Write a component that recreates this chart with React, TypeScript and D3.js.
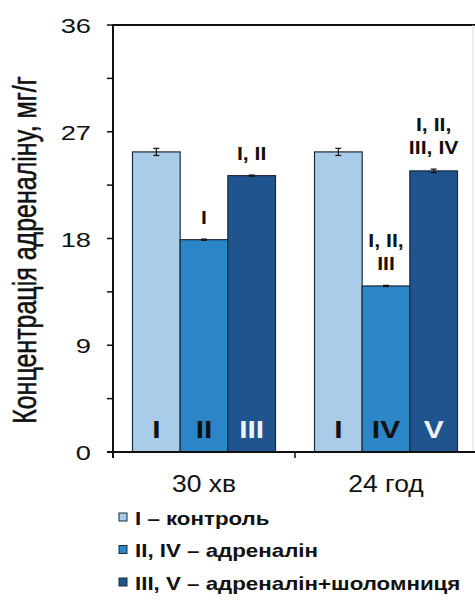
import React from "react";
import * as d3 from "d3";

const categories = ["30 хв", "24 год"];
const series = ["control", "adrenaline", "adrenalineMushroom"];
const values = [
  [25.3, 17.9, 23.3],
  [25.3, 14.0, 23.7],
];
const errors = [
  [0.3, 0.05, 0.05],
  [0.3, 0.05, 0.15],
];
const barLabels = [
  ["I", "II", "III"],
  ["I", "IV", "V"],
];
const sigLabels = [
  [[], ["I"], ["I, II"]],
  [[], ["I, II,", "III"], ["I, II,", "III, IV"]],
];
const yTicks = [0, 9, 18, 27, 36];
const yMinorTicks = [4.5, 13.5, 22.5, 31.5];
const legendLabels = ["I – контроль", "II, IV – адреналін", "III, V – адреналін+шоломниця"];
const colors = ["#a9cce9", "#2b85c7", "#1f548e"];
const labelColors = ["#111", "#111", "#eef3fa"];
const yTitle = "Концентрація адреналіну, мг/г";

const font = "'Liberation Sans', Arial, sans-serif";

function SText(props: {
  x: number;
  y: number;
  sx: number;
  size: number;
  bold?: boolean;
  anchor?: string;
  fill?: string;
  children: React.ReactNode;
}) {
  const { x, y, sx, size, bold, anchor, fill, children } = props;
  return (
    <g transform={`translate(${x},${y}) scale(${sx},1)`}>
      <text
        x={0}
        y={0}
        textAnchor={anchor || "start"}
        fontFamily={font}
        fontWeight={bold ? "bold" : "normal"}
        fontSize={size}
        fill={fill || "#111"}
      >
        {children}
      </text>
    </g>
  );
}

export default function App() {
  const W = 475, H = 601;
  const left = 113, right = 477, top = 25, bottom = 452;
  const y = d3.scaleLinear().domain([0, 36]).range([bottom, top]);
  const x0 = d3.scaleBand().domain(categories).range([left, right]).paddingInner(0).paddingOuter(0);
  const x1 = d3.scaleBand().domain(series).range([0, 143]);
  const groupOffset = (x0.bandwidth() - 143) / 2;

  return (
    <svg width={W} height={H} style={{ position: "absolute", left: 0, top: 0, background: "#fff" }}>
      {/* plot frame */}
      <line x1={left} x2={475} y1={top} y2={top} stroke="#111" strokeWidth={2} />
      <line x1={473} x2={473} y1={top} y2={bottom} stroke="#ddd" strokeWidth={1} />
      {/* bars */}
      {categories.map((c, gi) =>
        series.map((s, si) => {
          const bx = (x0(c) as number) + groupOffset + (x1(s) as number);
          const bw = x1.bandwidth();
          const v = values[gi][si];
          const e = errors[gi][si];
          const cx = bx + bw / 2;
          const sig = sigLabels[gi][si];
          return (
            <g key={c + s}>
              <rect x={bx} y={y(v)} width={bw} height={bottom - y(v)} fill={colors[si]} stroke="#1b2a3a" strokeWidth={1.2} />
              <line x1={cx} x2={cx} y1={y(v + e)} y2={y(v - e)} stroke="#111" strokeWidth={1.2} />
              <line x1={cx - 3} x2={cx + 3} y1={y(v + e)} y2={y(v + e)} stroke="#111" strokeWidth={1.2} />
              <line x1={cx - 3} x2={cx + 3} y1={y(v - e)} y2={y(v - e)} stroke="#111" strokeWidth={1.2} />
              <SText x={cx} y={438} sx={1.25} size={24} bold anchor="middle" fill={labelColors[si]}>
                {barLabels[gi][si]}
              </SText>
              {sig.map((t, li) => (
                <SText key={li} x={cx} y={y(v + e) - 15 - (sig.length - 1 - li) * 23} sx={1.12} size={19} bold anchor="middle">
                  {t}
                </SText>
              ))}
            </g>
          );
        })
      )}
      {/* y axis */}
      <line x1={left} x2={left} y1={top - 1} y2={bottom + 6} stroke="#111" strokeWidth={2} />
      {yTicks.map((t) => (
        <g key={t}>
          <line x1={left - 6} x2={left} y1={y(t)} y2={y(t)} stroke="#111" strokeWidth={1.5} />
          <SText x={91} y={y(t) + 8} sx={1.3} size={21} anchor="end">
            {t}
          </SText>
        </g>
      ))}
      {yMinorTicks.map((t) => (
        <line key={t} x1={left - 6} x2={left} y1={y(t)} y2={y(t)} stroke="#111" strokeWidth={1.5} />
      ))}
      {/* x axis */}
      <line x1={left - 6} x2={475} y1={bottom} y2={bottom} stroke="#111" strokeWidth={2} />
      <line x1={x0(categories[1]) as number} x2={x0(categories[1]) as number} y1={bottom} y2={bottom + 6} stroke="#111" strokeWidth={1.5} />
      {categories.map((c) => (
        <SText key={c} x={(x0(c) as number) + x0.bandwidth() / 2} y={492} sx={1.15} size={23} anchor="middle">
          {c}
        </SText>
      ))}
      {/* y title */}
      <g transform="translate(36,250) scale(1.3,1) rotate(-90)">
        <text x={0} y={0} textAnchor="middle" fontFamily={font} fontSize={25} stroke="#111" strokeWidth={0.4} fill="#111">
          {yTitle}
        </text>
      </g>
      {/* legend */}
      {legendLabels.map((l, i) => (
        <g key={l}>
          <rect x={119} y={518 + i * 32.5 - 5} width={8} height={8} fill={colors[i]} stroke="#1b2a3a" strokeWidth={1} />
          <SText x={135} y={518 + i * 32.5 + 6.5} sx={1.24} size={18} bold>
            {l}
          </SText>
        </g>
      ))}
    </svg>
  );
}
